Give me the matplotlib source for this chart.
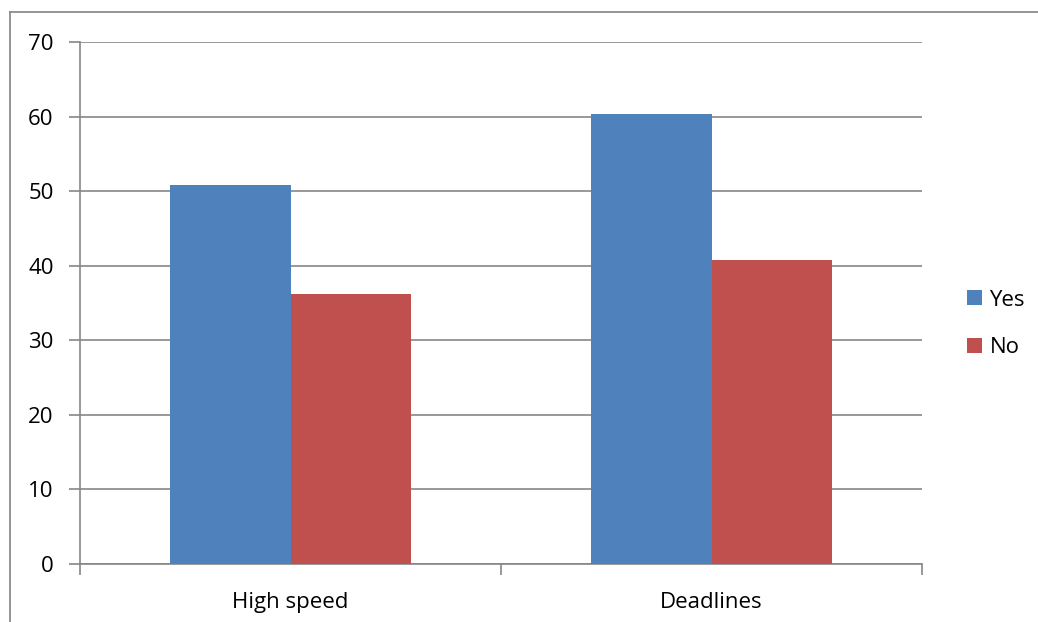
import matplotlib.pyplot as plt
import numpy as np
from matplotlib.lines import Line2D

categories = ["High speed", "Deadlines"]
yes_vals = [50.8, 60.4]
no_vals = [36.2, 40.8]

plt.rcParams['font.family'] = ['Open Sans', 'DejaVu Sans']

W, H = 1038, 622
fig = plt.figure(figsize=(W / 100, H / 100), dpi=100)

# outer chart frame: left and top edges only visible
frame_c = "#8c8c8c"
fig.lines.append(Line2D([10 / W, 10 / W], [0, 1 - 12 / H], transform=fig.transFigure,
                        color=frame_c, linewidth=1.3))
fig.lines.append(Line2D([10 / W, 1], [1 - 12 / H, 1 - 12 / H], transform=fig.transFigure,
                        color=frame_c, linewidth=1.3))

ax = fig.add_axes([80 / W, (H - 564) / H, (922 - 80) / W, (564 - 42) / H])

grid_c = "#868686"
x = np.arange(len(categories))
w = 1 / 3.5
ax.bar(x - w / 2, yes_vals, w, color="#4F81BD", label="Yes", zorder=3)
ax.bar(x + w / 2, no_vals, w, color="#C0504D", label="No", zorder=3)

ax.set_xlim(-0.5, 1.5)
ax.set_ylim(0, 70)
ax.set_yticks(range(0, 71, 10))
ax.yaxis.grid(True, color=grid_c, linewidth=1.2, zorder=0)
ax.set_axisbelow(True)

ax.set_xticks([-0.5, 0.5, 1.5])
ax.set_xticklabels([])
ax.set_xticks(x, minor=True)
ax.set_xticklabels(categories, minor=True, fontsize=16)
ax.tick_params(axis="x", which="minor", length=0, pad=20)
ax.tick_params(axis="x", which="major", length=8, color=grid_c, width=1.2)
ax.tick_params(axis="y", length=8, color=grid_c, width=1.2, labelsize=16, pad=11)

for s in ["top", "right"]:
    ax.spines[s].set_visible(False)
for s in ["left", "bottom"]:
    ax.spines[s].set_color(grid_c)
    ax.spines[s].set_linewidth(1.2)

ax.legend(loc="center left", bbox_to_anchor=(1.03, 0.46), frameon=False,
          fontsize=16, handlelength=0.65, handleheight=0.65, handletextpad=0.35,
          labelspacing=1.2)

fig.savefig("out.png", dpi=100)
